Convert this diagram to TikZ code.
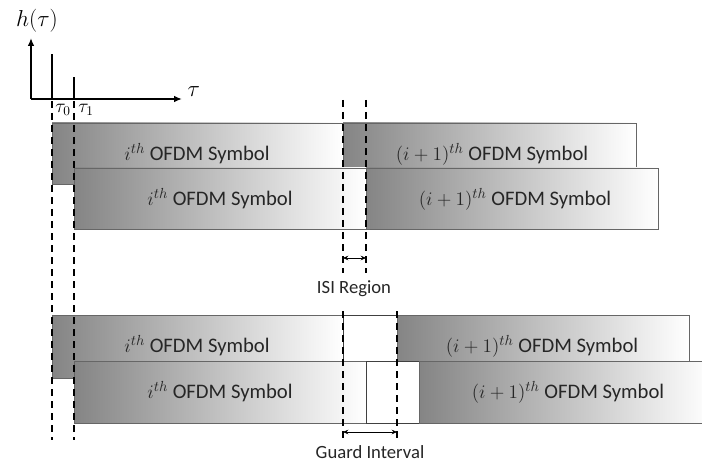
\documentclass[tikz,border=0pt]{standalone}
\usepackage{fontspec}
\setmainfont{Carlito}
\usetikzlibrary{fit,arrows.meta}

\tikzset{
  symbox/.style={draw=black!60, line width=0.6pt, left color=black!48, right color=white, inner sep=0pt},
  symtext/.style={font=\fontsize{15.5}{18}\selectfont, text=black!85, inner sep=0pt},
  gapbox/.style={draw=black!75, line width=0.6pt, fill=white, inner sep=0pt},
  cutline/.style={line width=1.6pt, dash pattern=on 5pt off 4pt},
  gaparrow/.style={{Stealth[length=4pt,width=3.5pt]}-{Stealth[length=4pt,width=3.5pt]}, line width=0.6pt},
  axisline/.style={line width=1.5pt, -{Latex[length=6pt,width=5pt]}},
  lbl/.style={font=\fontsize{14}{17}\selectfont, text=black!85, inner sep=1pt},
}

\begin{document}
\begin{tikzpicture}[x=0.75pt, y=-0.75pt]
  \clip (0,0) rectangle (702,470);

  % channel impulse response
  \coordinate (origin) at (31,99);
  \coordinate (hTop) at (31,38);
  \coordinate (tauEnd) at (182,99);
  \draw[axisline] (origin) -- (hTop);
  \draw[axisline] (origin) -- (tauEnd);
  \node (hLabel) [font=\fontsize{16}{19}\selectfont] at (37,21) {$h(\tau)$};
  \node (tauLabel) [font=\fontsize{16}{19}\selectfont, anchor=west] at (183,92) {$\tau$};
  \coordinate (imp0) at (52,99);
  \coordinate (imp0top) at (52,54);
  \coordinate (imp1) at (74,99);
  \coordinate (imp1top) at (74,77);
  \draw[line width=0.8pt] (imp0) -- (imp0top);
  \draw[line width=0.8pt] (imp1) -- (imp1top);
  \node (tau0) [font=\fontsize{14}{17}\selectfont] at (63,110) {$\tau_0$};
  \node (tau1) [font=\fontsize{14}{17}\selectfont] at (86,110) {$\tau_1$};

  % without guard interval
  \node (symA) [symbox, fit={(52,123) (343,184)}] {};
  \node (symB) [symbox, fit={(343,123) (636,184)}] {};
  \node (symC) [symbox, fit={(74,168) (366,229)}] {};
  \node (symD) [symbox, fit={(366,168) (658,229)}] {};
  \node (txtA) [symtext] at (197,154) {$i^{th}$ OFDM Symbol};
  \node (txtB) [symtext] at (492,154) {$(i+1)^{th}$ OFDM Symbol};
  \node (txtC) [symtext] at (220,199) {$i^{th}$ OFDM Symbol};
  \node (txtD) [symtext] at (515,199) {$(i+1)^{th}$ OFDM Symbol};

  % with guard interval
  \node (symE) [symbox, fit={(52,315) (343,378)}] {};
  \node (gapE) [gapbox, fit={(343,315) (397,378)}] {};
  \node (symF) [symbox, fit={(397,315) (689,378)}] {};
  \node (symG) [symbox, fit={(74,361) (366,423)}] {};
  \node (gapG) [gapbox, fit={(366,361) (419,423)}] {};
  \node (symH) [symbox, fit={(419,361) (711,423)}] {};
  \node (txtE) [symtext] at (197,346) {$i^{th}$ OFDM Symbol};
  \node (txtF) [symtext] at (542,346) {$(i+1)^{th}$ OFDM Symbol};
  \node (txtG) [symtext] at (220,392) {$i^{th}$ OFDM Symbol};
  \node (txtH) [symtext] at (568,392) {$(i+1)^{th}$ OFDM Symbol};

  % delay markers
  \coordinate (cutA1) at (52,101);
  \coordinate (cutA2) at (52,440);
  \coordinate (cutB1) at (74,101);
  \coordinate (cutB2) at (74,440);
  \draw[cutline] (cutA1) -- (cutA2);
  \draw[cutline] (cutB1) -- (cutB2);

  \coordinate (isiL1) at (343,100);
  \coordinate (isiL2) at (343,273);
  \coordinate (isiR1) at (366,100);
  \coordinate (isiR2) at (366,273);
  \draw[cutline] (isiL1) -- (isiL2);
  \draw[cutline] (isiR1) -- (isiR2);
  \coordinate (isiArrL) at (343,258);
  \coordinate (isiArrR) at (366,258);
  \draw[gaparrow] (isiArrL) -- (isiArrR);
  \node (isiLabel) [lbl] at (354,289) {ISI Region};

  \coordinate (giL1) at (343,311);
  \coordinate (giL2) at (343,440);
  \coordinate (giR1) at (397,311);
  \coordinate (giR2) at (397,440);
  \draw[cutline] (giL1) -- (giL2);
  \draw[cutline] (giR1) -- (giR2);
  \coordinate (giArrL) at (343,432);
  \coordinate (giArrR) at (397,432);
  \draw[gaparrow] (giArrL) -- (giArrR);
  \node (giLabel) [lbl] at (370,452) {Guard Interval};
\end{tikzpicture}
\end{document}
